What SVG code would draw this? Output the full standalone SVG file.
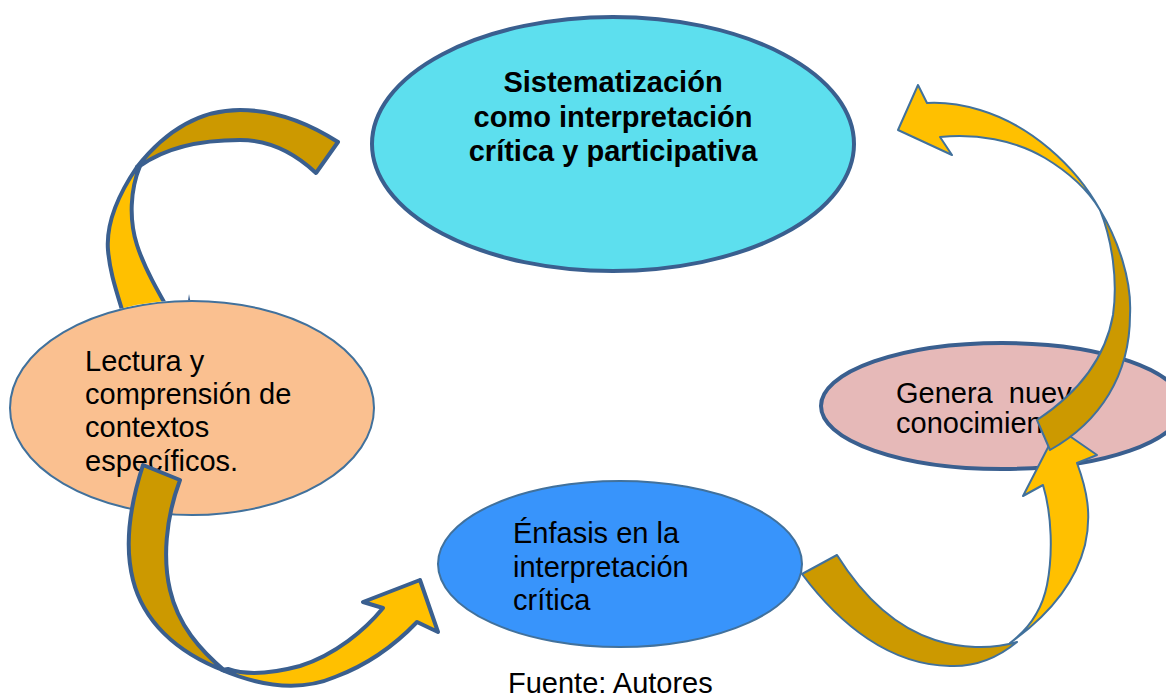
<svg xmlns="http://www.w3.org/2000/svg" width="1166" height="698" viewBox="0 0 1166 698">
<style>
.t{font-family:"Liberation Sans",Arial,sans-serif;font-size:29px;fill:#000}
.b{font-weight:bold}
.dk{fill:#CC9900}
.yl{fill:#FFC000}
.thick{stroke:#3A5F8F;stroke-width:4;stroke-linejoin:round}
.thin{stroke:#41719C;stroke-width:2;stroke-linejoin:round}
</style>
<defs>
<mask id="m1" maskUnits="userSpaceOnUse" x="0" y="0" width="1166" height="698">
<rect x="0" y="0" width="1166" height="698" fill="#fff"/>
<ellipse cx="192" cy="408" rx="183" ry="108" fill="#000"/>
</mask>
</defs>
<rect width="1166" height="698" fill="#fff"/>
<g id="node-sistematizacion">
<ellipse cx="613" cy="144" rx="241" ry="127" fill="#5DDFEE" stroke="#3A5F8F" stroke-width="4"/>
<text class="t b" text-anchor="middle" x="613" y="92">Sistematización</text>
<text class="t b" text-anchor="middle" x="613" y="127">como interpretación</text>
<text class="t b" text-anchor="middle" x="613" y="161">crítica y participativa</text>
</g>
<g id="node-lectura">
<ellipse cx="192" cy="408" rx="182" ry="107" fill="#FAC090" stroke="#41719C" stroke-width="2"/>
<text class="t" x="85" y="371">Lectura y</text>
<text class="t" x="85" y="404">comprensión de</text>
<text class="t" x="85" y="437">contextos</text>
<text class="t" x="85" y="471">específicos.</text>
</g>
<g id="node-enfasis">
<ellipse cx="620" cy="564" rx="182" ry="83" fill="#3894FB" stroke="#41719C" stroke-width="2"/>
<text class="t" x="513" y="543">Énfasis en la</text>
<text class="t" x="513" y="577">interpretación</text>
<text class="t" x="513" y="610">crítica</text>
</g>
<g id="node-genera">
<ellipse cx="1002" cy="406" rx="181" ry="63" fill="#E6B9B8" stroke="#3A5F8F" stroke-width="4"/>
<text class="t" x="896" y="403">Genera&#160; nuev</text>
<text class="t" x="896" y="433">conocimien</text>
</g>
<g id="connectors">
<g id="arrow-sis-lectura" mask="url(#m1)">
<path class="dk thick" d="M338,142 C310,124 275,110 240,110 C205,110 170,125 137,167 L140,166 C165,148 200,140 240,140 C275,140 300,158 316,173 Z"/>
<path class="yl thick" d="M137,167 C118,195 106,225 108,250 C110,275 118,295 128,330 L180,330 C160,295 145,270 137,245 C129,220 130,190 140,166 Z"/>
<path fill="#3A5F8F" d="M185,320 L189,294 L194,320 Z"/>
</g>
<g id="arrow-lectura-enfasis">
<path class="dk thick" d="M143,465 C130,505 124,545 133,580 C143,620 175,652 225,671 C200,650 178,625 170,590 C163,560 165,520 180,480 Z"/>
<path class="yl thick" d="M222,670 C260,686 300,692 335,677 C370,664 395,645 417,622 L438,632 L420,580 L363,602 L383,608 C365,630 335,655 300,666 C270,674 245,675 228,669 Z"/>
</g>
<g id="arrow-enfasis-genera">
<path class="dk thin" d="M802,574 C840,625 890,665 950,666 C977,667 1000,656 1017,642 C990,650 960,648 935,640 C895,627 862,595 837,555 Z"/>
<path class="yl thin" d="M1010,643 C1045,618 1075,585 1085,545 C1092,515 1087,490 1077,463 L1097,455 L1058,428 L1023,496 L1043,485 C1052,515 1053,555 1047,585 C1042,610 1030,628 1010,643 Z"/>
</g>
<g id="arrow-genera-sis">
<path class="dk thin" d="M1037,420 C1075,395 1105,360 1113,315 C1118,280 1112,240 1100,210 C1118,240 1132,280 1130,315 C1130,375 1100,422 1050,450 Z"/>
<path class="yl thin" d="M1100,210 C1075,165 1030,125 980,110 C960,104 945,102 927,103 L918,85 L898,130 L952,155 L940,137 C975,133 1015,140 1045,158 C1070,173 1088,190 1100,210 Z"/>
</g>
</g>
<text class="t" x="508" y="693">Fuente: Autores</text>
</svg>
